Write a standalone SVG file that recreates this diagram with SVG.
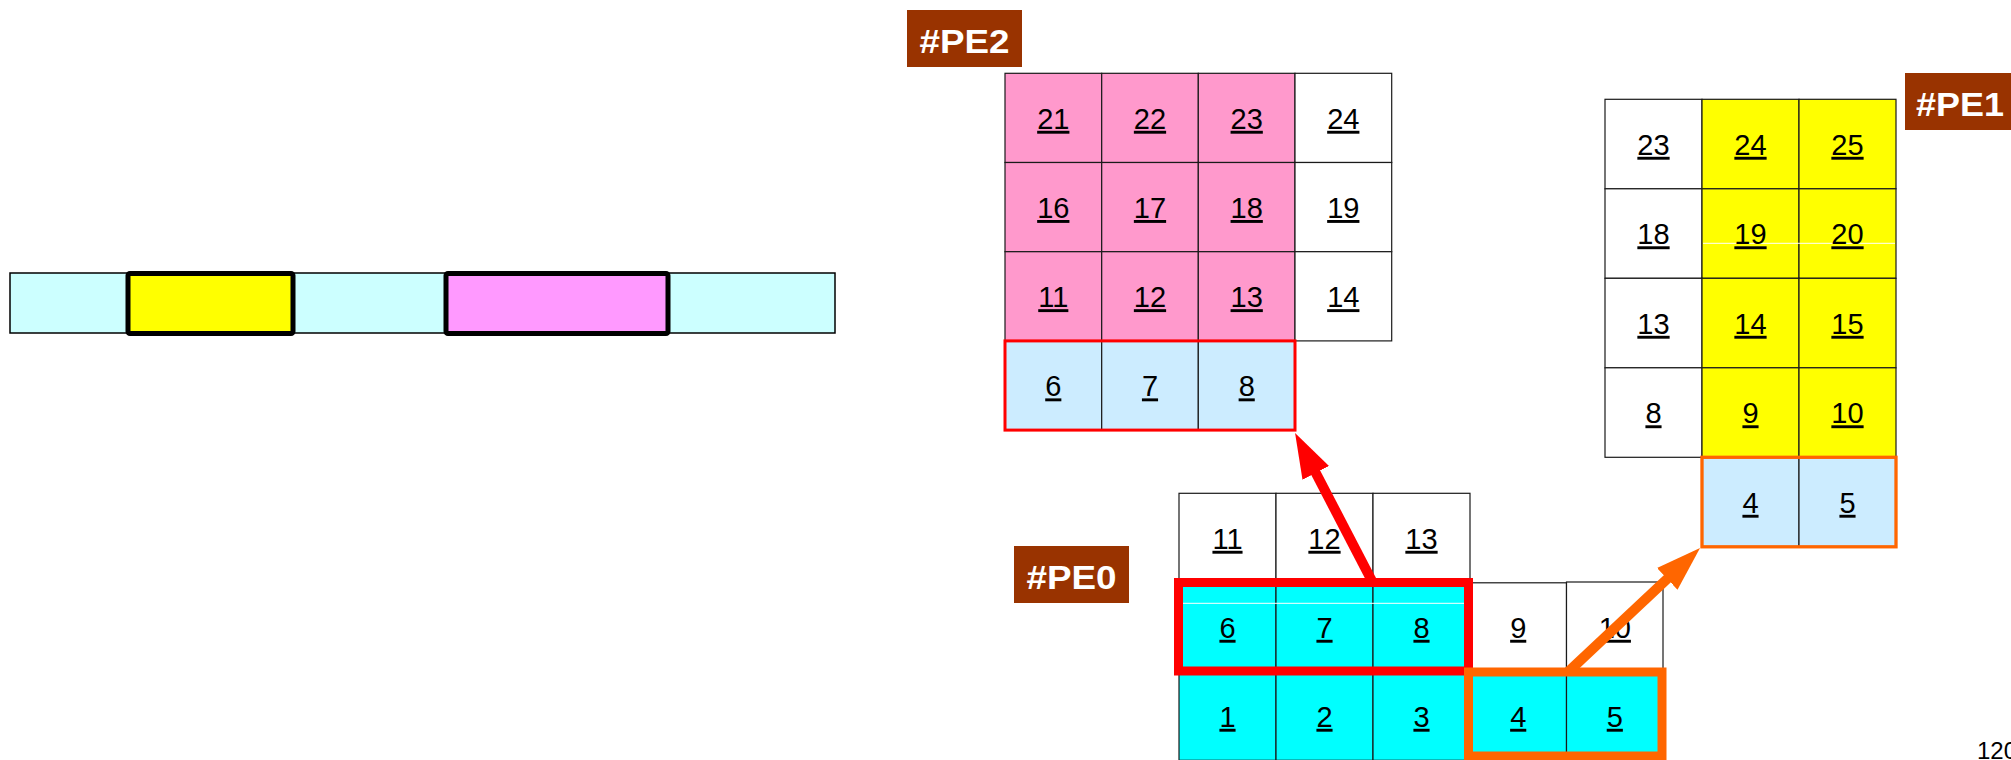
<svg xmlns="http://www.w3.org/2000/svg" width="2011" height="760" viewBox="0 0 2011 760">
<style>
.c{stroke:#1a1a1a;stroke-width:1.2}
.w{fill:#FFFFFF}.pk{fill:#FF99CC}.lb{fill:#CCECFF}.cy{fill:#00FFFF}.ye{fill:#FFFF00}
.n{font-family:"Liberation Sans",Arial,Helvetica,sans-serif;font-size:29px;text-anchor:middle;text-decoration:underline;fill:#000}
.lab rect{fill:#993300}
.lab text{font-family:"Liberation Sans",Arial,Helvetica,sans-serif;font-weight:bold;font-size:33px;fill:#FFFFFF;text-anchor:middle}
.art{stroke:#FFFFFF;stroke-width:1}
</style>
<defs>
<marker id="ahR" markerUnits="userSpaceOnUse" markerWidth="45" markerHeight="30" refX="23" refY="15" orient="auto"><path d="M0,0 L45,15 L0,30 z" fill="#FF0000"/></marker>
<marker id="ahO" markerUnits="userSpaceOnUse" markerWidth="45" markerHeight="30" refX="23" refY="15" orient="auto"><path d="M0,0 L45,15 L0,30 z" fill="#FF6600"/></marker>
</defs>
<rect width="2011" height="760" fill="#FFFFFF"/>

<g id="bar">
<rect x="10" y="273" width="825" height="60" fill="#CCFFFF" stroke="#000" stroke-width="1.5"/>
<rect x="128" y="273.5" width="165" height="60" rx="2" fill="#FFFF00" stroke="#000" stroke-width="5"/>
<rect x="446" y="273.5" width="222" height="60" rx="2" fill="#FF99FF" stroke="#000" stroke-width="5"/>
</g>

<g id="pe2">
<g class="c">
<rect class="pk" x="1005" y="73.3" width="96.7" height="89.2"/><rect class="pk" x="1101.7" y="73.3" width="96.6" height="89.2"/><rect class="pk" x="1198.3" y="73.3" width="96.7" height="89.2"/><rect class="w" x="1295" y="73.3" width="96.7" height="89.2"/>
<rect class="pk" x="1005" y="162.5" width="96.7" height="89.2"/><rect class="pk" x="1101.7" y="162.5" width="96.6" height="89.2"/><rect class="pk" x="1198.3" y="162.5" width="96.7" height="89.2"/><rect class="w" x="1295" y="162.5" width="96.7" height="89.2"/>
<rect class="pk" x="1005" y="251.7" width="96.7" height="89.2"/><rect class="pk" x="1101.7" y="251.7" width="96.6" height="89.2"/><rect class="pk" x="1198.3" y="251.7" width="96.7" height="89.2"/><rect class="w" x="1295" y="251.7" width="96.7" height="89.2"/>
<rect class="lb" x="1005" y="340.9" width="96.7" height="89.2"/><rect class="lb" x="1101.7" y="340.9" width="96.6" height="89.2"/><rect class="lb" x="1198.3" y="340.9" width="96.7" height="89.2"/>
</g>
<text class="n" x="1053.3" y="128.8">21</text><text class="n" x="1150" y="128.8">22</text><text class="n" x="1246.7" y="128.8">23</text><text class="n" x="1343.3" y="128.8">24</text>
<text class="n" x="1053.3" y="218">16</text><text class="n" x="1150" y="218">17</text><text class="n" x="1246.7" y="218">18</text><text class="n" x="1343.3" y="218">19</text>
<text class="n" x="1053.3" y="307.2">11</text><text class="n" x="1150" y="307.2">12</text><text class="n" x="1246.7" y="307.2">13</text><text class="n" x="1343.3" y="307.2">14</text>
<text class="n" x="1053.3" y="396.4">6</text><text class="n" x="1150" y="396.4">7</text><text class="n" x="1246.7" y="396.4">8</text>
<rect x="1005" y="340.9" width="290" height="89.2" fill="none" stroke="#FF0000" stroke-width="3"/>
</g>

<g id="pe1">
<g class="c">
<rect class="w" x="1605" y="99.3" width="97" height="89.5"/><rect class="ye" x="1702" y="99.3" width="97" height="89.5"/><rect class="ye" x="1799" y="99.3" width="97" height="89.5"/>
<rect class="w" x="1605" y="188.8" width="97" height="89.5"/><rect class="ye" x="1702" y="188.8" width="97" height="89.5"/><rect class="ye" x="1799" y="188.8" width="97" height="89.5"/>
<rect class="w" x="1605" y="278.3" width="97" height="89.5"/><rect class="ye" x="1702" y="278.3" width="97" height="89.5"/><rect class="ye" x="1799" y="278.3" width="97" height="89.5"/>
<rect class="w" x="1605" y="367.8" width="97" height="89.5"/><rect class="ye" x="1702" y="367.8" width="97" height="89.5"/><rect class="ye" x="1799" y="367.8" width="97" height="89.5"/>
<rect class="lb" x="1702" y="457.3" width="97" height="89.5"/><rect class="lb" x="1799" y="457.3" width="97" height="89.5"/>
</g>
<line class="art" x1="1703" y1="243.3" x2="1895" y2="243.3"/>
<text class="n" x="1653.5" y="154.8">23</text><text class="n" x="1750.5" y="154.8">24</text><text class="n" x="1847.5" y="154.8">25</text>
<text class="n" x="1653.5" y="244.3">18</text><text class="n" x="1750.5" y="244.3">19</text><text class="n" x="1847.5" y="244.3">20</text>
<text class="n" x="1653.5" y="333.8">13</text><text class="n" x="1750.5" y="333.8">14</text><text class="n" x="1847.5" y="333.8">15</text>
<text class="n" x="1653.5" y="423.3">8</text><text class="n" x="1750.5" y="423.3">9</text><text class="n" x="1847.5" y="423.3">10</text>
<text class="n" x="1750.5" y="512.8">4</text><text class="n" x="1847.5" y="512.8">5</text>
<rect x="1702" y="457.3" width="194" height="89.5" fill="none" stroke="#FF6600" stroke-width="3.3"/>
</g>

<g id="pe0">
<g class="c">
<rect class="w" x="1179" y="493.3" width="97" height="89"/><rect class="w" x="1276" y="493.3" width="97" height="89"/><rect class="w" x="1373" y="493.3" width="97" height="89"/>
<rect class="cy" x="1179" y="582.3" width="97" height="89"/><rect class="cy" x="1276" y="582.3" width="97" height="89"/><rect class="cy" x="1373" y="582.3" width="97" height="89"/><rect class="w" x="1470" y="582.8" width="96.5" height="88.5"/><rect class="w" x="1566.5" y="582" width="96.5" height="89.3"/>
<rect class="cy" x="1179" y="671.3" width="97" height="89"/><rect class="cy" x="1276" y="671.3" width="97" height="89"/><rect class="cy" x="1373" y="671.3" width="97" height="89"/><rect class="cy" x="1470" y="671.3" width="96.5" height="89"/><rect class="cy" x="1566.5" y="671.3" width="96.5" height="89"/>
</g>
<line class="art" x1="1183" y1="603.3" x2="1464" y2="603.3"/>
<text class="n" x="1227.5" y="548.8">11</text><text class="n" x="1324.5" y="548.8">12</text><text class="n" x="1421.5" y="548.8">13</text>
<text class="n" x="1227.5" y="637.8">6</text><text class="n" x="1324.5" y="637.8">7</text><text class="n" x="1421.5" y="637.8">8</text><text class="n" x="1518.2" y="637.8">9</text><text class="n" x="1614.8" y="637.8">10</text>
<text class="n" x="1227.5" y="726.8">1</text><text class="n" x="1324.5" y="726.8">2</text><text class="n" x="1421.5" y="726.8">3</text><text class="n" x="1518.2" y="726.8">4</text><text class="n" x="1614.8" y="726.8">5</text>
<rect x="1178.5" y="582.5" width="290" height="88.5" fill="none" stroke="#FF0000" stroke-width="9"/>
<rect x="1468.5" y="672" width="193.5" height="84" fill="none" stroke="#FF6600" stroke-width="9"/>
</g>

<g id="lab-pe2" class="lab"><rect x="907" y="10" width="115" height="57"/><text x="964.5" y="53" textLength="90" lengthAdjust="spacingAndGlyphs">#PE2</text></g>
<g id="lab-pe1" class="lab"><rect x="1905" y="73" width="115" height="57"/><text x="1960" y="116" textLength="88" lengthAdjust="spacingAndGlyphs">#PE1</text></g>
<g id="lab-pe0" class="lab"><rect x="1014" y="546" width="115" height="57"/><text x="1071.5" y="589" textLength="90" lengthAdjust="spacingAndGlyphs">#PE0</text></g>

<g id="connectors" fill="none" stroke-width="10">
<line x1="1373" y1="583" x2="1305.2" y2="452.5" stroke="#FF0000" marker-end="url(#ahR)"/>
<line x1="1568" y1="672" x2="1684" y2="563.1" stroke="#FF6600" marker-end="url(#ahO)"/>
</g>

<text x="1977" y="759" font-family="Liberation Sans, Arial, sans-serif" font-size="24" fill="#000">120</text>
</svg>
